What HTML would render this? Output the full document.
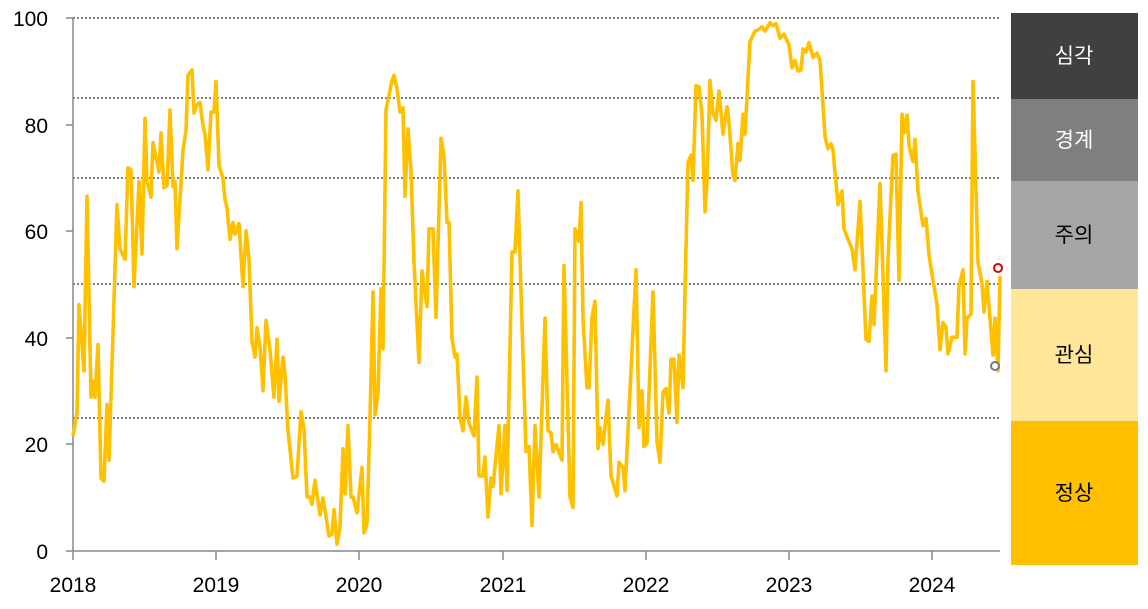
<!DOCTYPE html>
<html><head><meta charset="utf-8"><style>
body{margin:0;background:#fff;}
svg{display:block;font-family:"Liberation Sans","Noto Sans CJK KR",sans-serif;}
</style></head><body>
<svg width="1148" height="609" viewBox="0 0 1148 609">
<g stroke="#000" stroke-width="1" stroke-dasharray="2,2">
<line x1="73" y1="18" x2="1000" y2="18"/>
<line x1="73" y1="98" x2="1000" y2="98"/>
<line x1="73" y1="178" x2="1000" y2="178"/>
<line x1="73" y1="284" x2="1000" y2="284"/>
<line x1="73" y1="418" x2="1000" y2="418"/>
</g>
<g stroke="#888" stroke-width="1.5">
<line x1="73" y1="18" x2="73" y2="551"/>
<line x1="73" y1="551" x2="1000" y2="551"/>
<line x1="66" y1="18" x2="73" y2="18"/><line x1="66" y1="125" x2="73" y2="125"/>
<line x1="66" y1="231" x2="73" y2="231"/><line x1="66" y1="338" x2="73" y2="338"/>
<line x1="66" y1="444" x2="73" y2="444"/><line x1="66" y1="551" x2="73" y2="551"/>
<line x1="73" y1="551" x2="73" y2="560"/><line x1="216" y1="551" x2="216" y2="560"/>
<line x1="359" y1="551" x2="359" y2="560"/><line x1="503" y1="551" x2="503" y2="560"/>
<line x1="646" y1="551" x2="646" y2="560"/><line x1="789" y1="551" x2="789" y2="560"/>
<line x1="932" y1="551" x2="932" y2="560"/>
</g>
<g font-size="21" fill="#000" text-anchor="end">
<text x="48" y="26">100</text><text x="48" y="133">80</text><text x="48" y="239">60</text>
<text x="48" y="346">40</text><text x="48" y="452">20</text><text x="48" y="559">0</text>
</g>
<g font-size="21" fill="#000" text-anchor="middle">
<text x="73" y="592">2018</text><text x="216" y="592">2019</text><text x="359" y="592">2020</text>
<text x="503" y="592">2021</text><text x="646" y="592">2022</text><text x="789" y="592">2023</text>
<text x="932" y="592">2024</text>
</g>
<g transform="translate(0,10) scale(1,1.0519) translate(0,-10)">
<polyline fill="none" stroke="#ffc000" stroke-width="3.6" vector-effect="non-scaling-stroke" stroke-linejoin="round" points="73,415 77,393 79,290 84,353 87,187 91,378 93,363 95,378 98,328 101,455 104,458 107,385 109,438 117,195 120,237 125,247 128,160 131,162 134,273 139,173 142,242 145,113 147,173 151,188 153,136 159,164 161,127 164,179 167,177 170,105 173,178 175,173 177,237 183,143 186,125 188,72 192,67 194,108 197,100 200,98 203,120 205,128 208,162 211,107 214,107 216,78 219,158 223,170 225,190 227,198 230,228 233,212 235,223 239,213 243,273 246,220 249,247 252,325 255,340 257,312 260,330 263,372 266,305 270,333 274,378 277,323 279,382 283,340 285,357 288,410 293,455 297,453 301,392 304,408 307,473 310,473 312,480 315,457 320,490 323,474 329,510 332,508 334,485 337,518 340,502 343,427 345,470 348,405 351,473 353,473 357,488 362,445 364,507 367,498 370,398 373,278 375,395 378,375 381,275 383,332 386,105 392,77 394,72 397,85 400,107 403,103 405,187 408,123 411,163 414,250 419,345 422,258 427,292 429,218 433,218 436,302 441,132 444,148 447,212 449,212 452,322 455,340 457,337 460,397 463,410 466,378 469,403 474,415 477,359 479,453 483,453 485,435 488,492 491,455 493,463 499,405 501,470 505,405 507,467 512,240 515,240 518,182 521,277 526,430 529,425 532,500 535,405 539,473 545,303 548,410 551,412 553,430 556,423 562,438 564,253 570,473 573,483 575,218 579,230 581,193 583,303 587,369 589,369 592,302 595,287 598,427 600,407 603,423 608,381 611,453 617,472 619,440 623,445 625,467 636,257 639,407 642,372 644,425 647,422 653,278 657,420 660,440 663,373 666,370 669,393 671,342 674,342 677,402 679,338 683,369 685,277 688,155 691,148 693,172 696,82 699,83 702,110 705,202 707,173 710,77 713,108 716,115 719,87 723,128 727,102 729,117 733,167 735,172 738,137 740,153 743,109 745,128 750,40 755,30 758,29 762,26 765,30 770,22 773,25 776,23 780,37 784,33 789,43 792,65 795,58 798,68 801,67 803,47 806,50 809,41 813,55 817,51 820,58 825,130 828,142 831,137 833,143 838,195 842,182 844,218 848,228 852,237 855,257 860,192 866,323 869,325 872,282 874,309 880,175 886,353 888,247 893,148 896,147 899,267 902,109 904,127 907,110 909,139 913,154 915,133 918,183 923,215 926,208 929,243 933,267 937,290 940,333 943,307 946,312 948,337 952,321 957,321 959,273 963,257 965,337 967,303 971,299 973,78 978,250 982,270 984,297 987,268 993,338 995,303 998,353 1000,263"/>
</g>
<circle cx="998" cy="268" r="4" fill="#fff" stroke="#e00000" stroke-width="2"/>
<circle cx="995" cy="366" r="4" fill="#fff" stroke="#777" stroke-width="2"/>
<rect x="1011" y="13" width="127" height="86" fill="#404040"/>
<rect x="1011" y="99" width="127" height="82" fill="#7f7f7f"/>
<rect x="1011" y="181" width="127" height="108" fill="#a6a6a6"/>
<rect x="1011" y="289" width="127" height="132" fill="#ffe699"/>
<rect x="1011" y="421" width="127" height="144" fill="#ffc000"/>
<g font-size="21" text-anchor="middle">
<text x="1074" y="63" fill="#fff">심각</text>
<text x="1074" y="147" fill="#fff">경계</text>
<text x="1074" y="242" fill="#000">주의</text>
<text x="1074" y="362" fill="#000">관심</text>
<text x="1074" y="500" fill="#000">정상</text>
</g>
</svg>
</body></html>
